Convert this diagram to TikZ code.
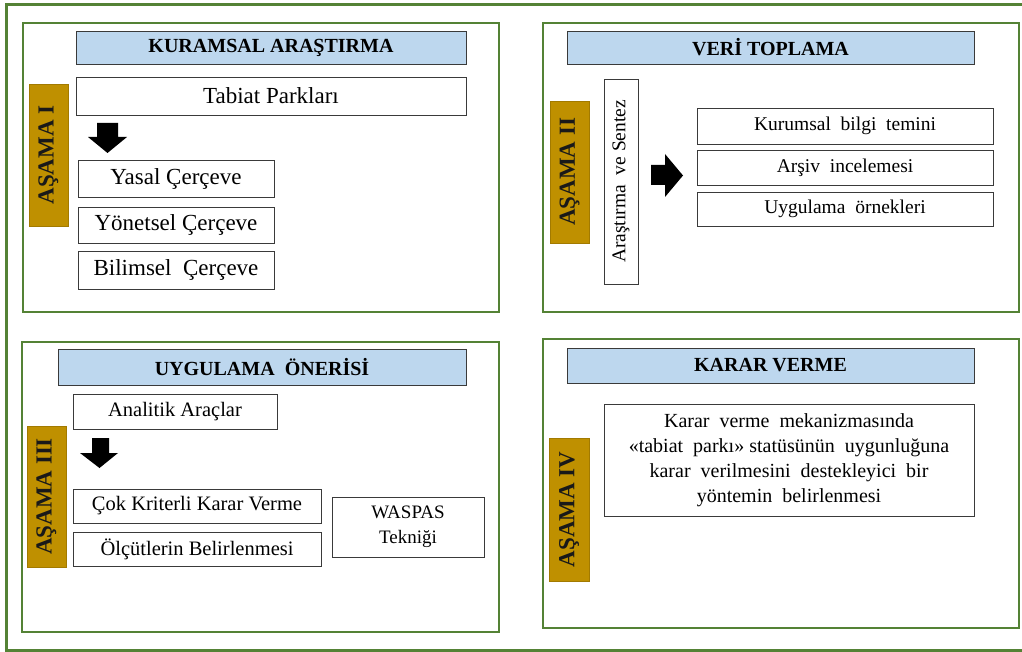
\documentclass[tikz,border=0pt]{standalone}
\usepackage{fontspec}
\setmainfont{Liberation Serif}
\definecolor{frameg}{HTML}{548235}
\definecolor{headfill}{HTML}{BDD7EE}
\definecolor{stagefill}{HTML}{BF9000}
\definecolor{boxline}{HTML}{3A3A3A}
\tikzset{
  panel/.style={draw=frameg, line width=2.2pt, inner sep=0pt},
  header/.style={draw=boxline, fill=headfill, line width=0.9pt, inner sep=0pt, font=\fontsize{20}{24}\selectfont\bfseries},
  stage/.style={fill=stagefill, draw=stagefill!85!black, line width=0.6pt, inner sep=0pt, font=\fontsize{23}{27}\selectfont\bfseries, text=black!90},
  itembox/.style={draw=boxline, fill=white, line width=0.9pt, inner sep=0pt},
  blockarrow/.style={fill=black, draw=none},
}
\begin{document}
\begin{tikzpicture}[x=1pt,y=-1pt]
\useasboundingbox (0,0) rectangle (1022,652);
\fill[white] (0,0) rectangle (1022,652);
% outer frame
\draw[frameg, line width=3pt] (6,5) rectangle (1030,650);

% ---------- Panel 1 ----------
\node[panel, minimum width=476pt, minimum height=289pt] (p1) at (261,167.5) {};
\node[header, minimum width=390pt, minimum height=33pt] (h1) at (271,47.5) {KURAMSAL ARAŞTIRMA};
\node[stage, minimum width=142pt, minimum height=39pt, rotate=90] (s1) at (48.5,155) {AŞAMA I};
\node[itembox, minimum width=390pt, minimum height=38pt, font=\fontsize{23}{27}\selectfont] (t1) at (271,96) {Tabiat Parkları};
\fill[blockarrow] (97,123) -- (118,123) -- (118,137) -- (127,137) -- (107.5,153) -- (88,137) -- (97,137) -- cycle;
\node[itembox, minimum width=196pt, minimum height=37pt, font=\fontsize{23}{27}\selectfont] (y1) at (176,178.5) {Yasal Çerçeve};
\node[itembox, minimum width=196pt, minimum height=36pt, font=\fontsize{23}{27}\selectfont] (y2) at (176,225) {Yönetsel Çerçeve};
\node[itembox, minimum width=196pt, minimum height=38pt, font=\fontsize{23}{27}\selectfont] (y3) at (176,270) {Bilimsel\ \ Çerçeve};

% ---------- Panel 2 ----------
\node[panel, minimum width=476pt, minimum height=289pt] (p2) at (781,167.5) {};
\node[header, minimum width=407pt, minimum height=33pt] (h2) at (770.5,47.5) {VERİ TOPLAMA};
\node[stage, minimum width=142pt, minimum height=39pt, rotate=90] (s2) at (569.5,172) {AŞAMA II};
\node[itembox, minimum width=205pt, minimum height=34pt, rotate=90, font=\fontsize{19.5}{23}\selectfont] (r2) at (621,181.5) {Araştırma\ \ ve Sentez};
\fill[blockarrow] (651,165) -- (665,165) -- (665,154) -- (683,175.5) -- (665,197) -- (665,185) -- (651,185) -- cycle;
\node[itembox, minimum width=296pt, minimum height=36pt, font=\fontsize{19.5}{23}\selectfont] (k1) at (845,126) {Kurumsal\ \ bilgi\ \ temini};
\node[itembox, minimum width=296pt, minimum height=35pt, font=\fontsize{19.5}{23}\selectfont] (k2) at (845,167.5) {Arşiv\ \ incelemesi};
\node[itembox, minimum width=296pt, minimum height=34pt, font=\fontsize{19.5}{23}\selectfont] (k3) at (845,209) {Uygulama\ \ örnekleri};

% ---------- Panel 3 ----------
\node[panel, minimum width=477pt, minimum height=290pt] (p3) at (260.5,487) {};
\node[header, minimum width=408pt, minimum height=36pt] (h3) at (262,367) {UYGULAMA\ \ ÖNERİSİ};
\node[itembox, minimum width=204pt, minimum height=35pt, font=\fontsize{20.5}{24}\selectfont] (a1) at (175,411.5) {Analitik Araçlar};
\node[stage, minimum width=141pt, minimum height=39pt, rotate=90] (s3) at (46.5,496.5) {AŞAMA III};
\fill[blockarrow] (92,438) -- (109,438) -- (109,453) -- (118,453) -- (99.5,468) -- (80,453) -- (92,453) -- cycle;
\node[itembox, minimum width=248pt, minimum height=34pt, font=\fontsize{20.5}{24}\selectfont] (c1) at (197,506) {Çok Kriterli Karar Verme};
\node[itembox, minimum width=248pt, minimum height=34pt, font=\fontsize{20.5}{24}\selectfont] (c2) at (197,549) {Ölçütlerin Belirlenmesi};
\node[itembox, minimum width=152pt, minimum height=60pt, align=center, font=\fontsize{19}{25}\selectfont] (w) at (408,527) {WASPAS\\Tekniği};

% ---------- Panel 4 ----------
\node[panel, minimum width=476pt, minimum height=289pt] (p4) at (781,483.5) {};
\node[header, minimum width=407pt, minimum height=35pt] (h4) at (770.5,365.5) {KARAR VERME};
\node[stage, minimum width=143pt, minimum height=40pt, rotate=90] (s4) at (569,509.5) {AŞAMA IV};
\node[itembox, minimum width=370pt, minimum height=112pt, align=center, font=\fontsize{20}{25}\selectfont] (d) at (789,460) {Karar\ \ verme\ \ mekanizmasında\\«tabiat\ \ parkı» statüsünün\ \ uygunluğuna\\karar\ \ verilmesini\ \ destekleyici\ \ bir\\yöntemin\ \ belirlenmesi};
\end{tikzpicture}
\end{document}
